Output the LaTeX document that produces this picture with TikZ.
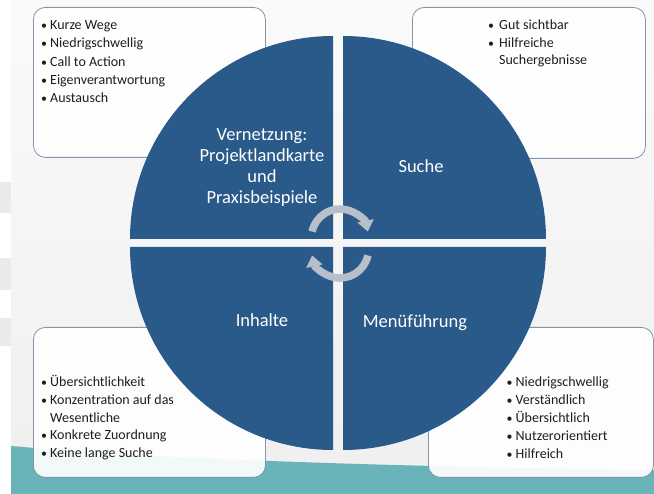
\documentclass[tikz,border=0pt]{standalone}
\usepackage{fontspec}
\setmainfont{Carlito}
\usetikzlibrary{arrows.meta}
\definecolor{circblue}{HTML}{2A5A8A}
\definecolor{boxline}{HTML}{8394AB}
\definecolor{tealc}{HTML}{69B4B9}
\definecolor{arrowgrey}{HTML}{B7BFCA}
\definecolor{boxtextc}{HTML}{1E1E1E}
\definecolor{panelTop}{HTML}{FAFAFA}
\definecolor{panelBot}{HTML}{EFEFEF}
\definecolor{stripe}{HTML}{EAEAEA}
\newcommand\bul{\makebox[9pt][l]{\scalebox{0.85}{\textbullet}}}
\newcommand\bulwide{\makebox[11pt][l]{\scalebox{0.85}{\textbullet}}}
\begin{document}
\begin{tikzpicture}[x=1pt,y=-1pt,
  quad/.style={fill=circblue},
  infobox/.style={draw=boxline, line width=0.8pt, rounded corners=12pt,
    fill=white, fill opacity=0.92, anchor=north west, inner sep=0pt},
  boxtext/.style={anchor=base west, inner sep=0pt, text=boxtextc},
  seglabel/.style={anchor=base, inner sep=0pt, text=white,
    font=\fontsize{18.5}{20.7}\selectfont},
  cyc/.style={line width=7.5pt, draw=arrowgrey,
    -{Triangle[length=11pt,width=16pt]}}
]
% page and slide panel
\fill[white] (0,0) rectangle (654,494);
\shade[top color=panelTop, bottom color=panelBot] (11,0) rectangle (654,494);
\fill[stripe] (0,182) rectangle (11,213);
\fill[stripe] (0,258) rectangle (11,290);
\fill[stripe] (0,318) rectangle (11,346);
% teal wave at the bottom
\fill[tealc] (11,446) .. controls (150,458) and (350,466) .. (654,470)
  -- (654,494) -- (11,494) -- cycle;

% text boxes
\node[infobox, minimum width=232pt, minimum height=150pt] (boxtl) at (33,7) {};
\node[infobox, minimum width=233pt, minimum height=151pt] (boxtr) at (412,7) {};
\node[infobox, minimum width=232pt, minimum height=150pt] (boxbl) at (33,327) {};
\node[infobox, minimum width=225pt, minimum height=150pt] (boxbr) at (428,327) {};

% circle made of four separated quadrants
\fill[quad] (333,239) -- ++(-203,0) arc[start angle=180, end angle=270, radius=203] -- cycle;
\fill[quad] (343,239) -- ++(0,-203) arc[start angle=270, end angle=360, radius=203] -- cycle;
\fill[quad] (343,247) -- ++(203,0) arc[start angle=0, end angle=90, radius=203] -- cycle;
\fill[quad] (333,247) -- ++(0,203) arc[start angle=90, end angle=180, radius=203] -- cycle;

% quadrant labels
\node[seglabel] (vernetzung) at (262,141)
  {\begin{tabular}[t]{@{}c@{}}Vernetzung:\\Projektlandkarte\\und\\Praxisbeispiele\end{tabular}};
\node[seglabel] (suche) at (421,173) {Suche};
\node[seglabel] (inhalte) at (262,327) {Inhalte};
\node[seglabel] (menue) at (415,328) {Menüführung};

% cycle arrows in the centre
\coordinate (ctop) at (340,237.5);
\coordinate (cbot) at (340,249.5);
\draw[cyc] ([shift={(192:28.5)}]ctop) arc[start angle=192, end angle=348, radius=28.5];
\draw[cyc] ([shift={(12:28.5)}]cbot) arc[start angle=12, end angle=168, radius=28.5];

% bullet lists
\node[boxtext, font=\fontsize{14}{18.3}\selectfont] (listtl) at (41,29.5)
  {\begin{tabular}[t]{@{}l@{}}\bul Kurze Wege\\\bul Niedrigschwellig\\\bul Call to Action\\\bul Eigenverantwortung\\\bul Austausch\end{tabular}};
\node[boxtext, font=\fontsize{14}{17.7}\selectfont] (listtr) at (488,29.5)
  {\begin{tabular}[t]{@{}l@{}}\bulwide Gut sichtbar\\\bulwide Hilfreiche\\\hspace{11pt}Suchergebnisse\end{tabular}};
\node[boxtext, font=\fontsize{14}{17.8}\selectfont] (listbl) at (41,386.5)
  {\begin{tabular}[t]{@{}l@{}}\bul Übersichtlichkeit\\\bul Konzentration auf das\\\hspace{9pt}Wesentliche\\\bul Konkrete Zuordnung\\\bul Keine lange Suche\end{tabular}};
\node[boxtext, font=\fontsize{14}{18}\selectfont] (listbr) at (506.5,386.5)
  {\begin{tabular}[t]{@{}l@{}}\bul Niedrigschwellig\\\bul Verständlich\\\bul Übersichtlich\\\bul Nutzerorientiert\\\bul Hilfreich\end{tabular}};
\end{tikzpicture}
\end{document}
